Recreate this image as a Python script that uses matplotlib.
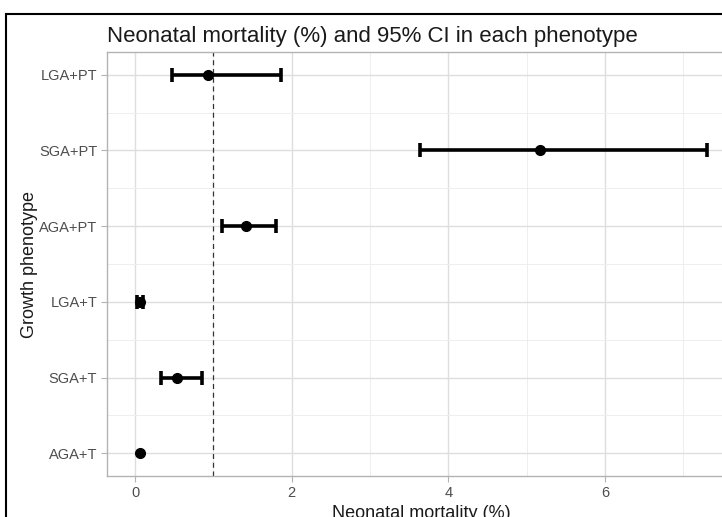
import matplotlib
matplotlib.use('Agg')
import matplotlib.pyplot as plt
from matplotlib.patches import Rectangle

plt.rcParams['font.family'] = ['Liberation Sans', 'DejaVu Sans']

# data (bottom to top on the plot)
phenotypes = ['AGA+T', 'SGA+T', 'LGA+T', 'AGA+PT', 'SGA+PT', 'LGA+PT']
mortality = [0.06, 0.53, 0.06, 1.42, 5.17, 0.93]
ci_low = [0.06, 0.33, 0.02, 1.11, 3.64, 0.47]
ci_high = [0.06, 0.85, 0.10, 1.80, 7.30, 1.86]

W, H = 722, 517
fig = plt.figure(figsize=(W / 100, H / 100), dpi=100)

# outer black frame (the image is cropped on the right and bottom)
fig.patches.append(Rectangle((6 / W, -0.1), 1.2, 1 - 14 / H + 0.1,
                             transform=fig.transFigure, fill=False,
                             edgecolor='black', linewidth=1.5, zorder=0))

# panel runs slightly past the right edge, as in the reference
ax = fig.add_axes([107 / W, 1 - 476 / H, (735 - 107) / W, (476 - 52) / H])

ypos = list(range(1, len(phenotypes) + 1))

ax.axvline(1.0, color='#333333', linestyle=(0, (4, 3)), linewidth=0.9, zorder=2)

# error bars only where the interval has width
for m, lo, hi, y in zip(mortality, ci_low, ci_high, ypos):
    if hi > lo:
        ax.errorbar([m], [y], xerr=[[m - lo], [hi - m]], fmt='none',
                    ecolor='black', elinewidth=2.6, capsize=5, capthick=2.6,
                    zorder=3)
ax.plot(mortality, ypos, 'o', color='black', markersize=7, zorder=4)

ax.set_xlim(-0.36, 7.66)
ax.set_ylim(0.7, 6.3)
ax.set_xticks([0, 2, 4, 6])
ax.set_xticks([1, 3, 5, 7], minor=True)
ax.set_yticks(ypos)
ax.set_yticklabels(phenotypes)
ax.set_yticks([y + 0.5 for y in ypos[:-1]], minor=True)

ax.grid(which='major', color='#dedede', linewidth=1.0, zorder=0)
ax.grid(which='minor', color='#eeeeee', linewidth=0.7, zorder=0)
ax.set_axisbelow(True)

for s in ax.spines.values():
    s.set_color('#b3b3b3')
    s.set_linewidth(1.0)

ax.tick_params(which='major', length=4, color='#b3b3b3', labelsize=10.5,
               labelcolor='#4d4d4d', width=0.8, pad=3)
ax.tick_params(which='minor', length=0)

ax.set_title('Neonatal mortality (%) and 95% CI in each phenotype',
             fontsize=16, loc='left', pad=7, color='#1a1a1a')
ax.set_xlabel('Neonatal mortality (%)', fontsize=13, color='#1a1a1a', labelpad=4)
ax.set_ylabel('Growth phenotype', fontsize=13, color='#1a1a1a', labelpad=1)

fig.savefig('out.png', dpi=100)
